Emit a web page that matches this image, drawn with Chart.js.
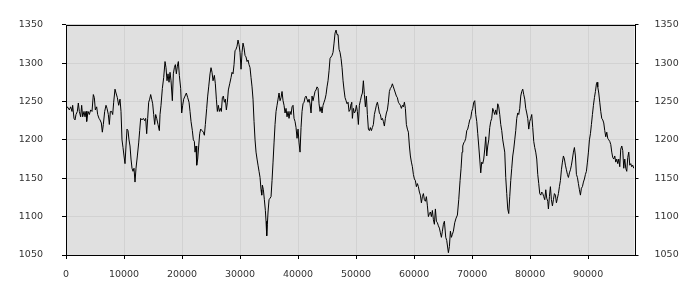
<!DOCTYPE html>
<html>
<head>
<meta charset="utf-8">
<script src="https://cdn.jsdelivr.net/npm/chart.js@4/dist/chart.umd.min.js"></script>
<style>
  html, body { margin: 0; padding: 0; background: #fff; }
</style>
</head>
<body>
<canvas id="grafico" width="700" height="300"></canvas>
<script>
// Série: [posição, valor]
const pontos = [
  [0,1240],[230,1243],[575,1239],[805,1243],[1034,1237],[1149,1245],[1379,1228],[1552,1226],[1724,1233],[1954,1237],
  [2126,1248],[2299,1237],[2529,1230],[2701,1245],[2874,1230],[3103,1237],[3276,1230],[3448,1237],[3563,1224],[3793,1237],
  [4023,1233],[4253,1239],[4483,1237],[4713,1259],[4885,1255],[5057,1239],[5287,1243],[5460,1233],[5690,1228],[5862,1226],
  [6092,1222],[6264,1210],[6437,1220],[6667,1237],[6897,1245],[7069,1241],[7299,1233],[7471,1220],[7644,1237],[7874,1237],
  [8046,1233],[8218,1249],[8448,1266],[8621,1261],[8851,1255],[9080,1245],[9310,1253],[9483,1237],[9655,1200],[9828,1190],
  [10000,1179],[10172,1169],[10345,1192],[10517,1214],[10690,1212],[10862,1200],[11034,1192],[11207,1175],[11379,1163],[11552,1159],
  [11724,1163],[11897,1145],[12069,1163],[12299,1179],[12529,1196],[12701,1212],[12874,1228],[13103,1226],[13333,1228],[13563,1225],
  [13736,1228],[13908,1208],[14080,1228],[14253,1249],[14425,1253],[14598,1259],[14770,1253],[14943,1247],[15115,1233],[15287,1220],
  [15460,1233],[15632,1228],[15862,1220],[16092,1212],
  [16207,1233],[16379,1245],[16609,1267],[16839,1281],[17069,1302],[17241,1294],[17414,1277],[17586,1286],[17759,1275],[17931,1288],
  [18103,1277],[18333,1251],[18506,1286],[18678,1294],[18851,1298],[19023,1286],[19195,1296],[19368,1302],[19540,1284],[19770,1267],
  [19943,1235],[20115,1245],[20287,1253],[20517,1257],[20747,1261],[20977,1255],[21207,1249],[21379,1237],[21552,1224],[21782,1212],
  [21954,1200],[22126,1198],[22241,1184],[22414,1192],[22529,1167],[22701,1175],[22874,1192],[23046,1208],[23218,1214],[23448,1212],
  [23678,1210],[23851,1206],[24023,1220],[24253,1241],[24425,1257],[24598,1269],[24828,1286],[25000,1294],[25172,1288],[25345,1277],
  [25575,1284],[25747,1273],[25920,1253],[26092,1237],[26264,1245],[26437,1237],[26609,1241],[26782,1237],[26954,1255],[27126,1257],
  [27299,1249],[27471,1253],[27644,1239],[27816,1249],[27988,1265],[28218,1273],[28448,1281],[28621,1288],[28793,1286],[28966,1298],
  [29138,1316],[29310,1318],[29483,1322],[29655,1330],[29828,1324],[30000,1314],[30172,1292],[30345,1314],[30517,1326],[30690,1320],
  [30862,1310],[31034,1308],[31207,1302],[31379,1304],[31552,1298],[31724,1294],
  [31897,1281],[32069,1269],[32241,1253],[32414,1224],[32586,1200],[32759,1184],[32931,1175],[33103,1167],[33276,1159],[33448,1151],
  [33621,1135],[33736,1128],[33851,1141],[34023,1135],[34195,1122],[34368,1108],[34483,1094],[34598,1075],[34713,1090],[34828,1106],
  [35000,1122],[35172,1124],[35345,1126],[35517,1147],[35690,1171],[35862,1196],[36034,1220],[36207,1237],[36379,1245],[36552,1253],
  [36724,1261],[36897,1251],[37069,1255],[37241,1263],[37414,1251],[37586,1245],[37759,1235],[37931,1241],[38103,1230],[38276,1237],
  [38448,1228],[38621,1237],[38793,1233],[38966,1243],[39138,1245],[39310,1228],[39483,1224],[39655,1216],[39828,1202],[40000,1214],
  [40172,1196],[40345,1184],[40517,1216],[40690,1237],[40862,1247],[41034,1249],[41207,1255],[41379,1257],[41552,1253],[41724,1249],
  [41897,1253],[42069,1247],[42241,1235],[42414,1257],[42586,1251],[42759,1257],[42931,1263],[43103,1265],[43276,1269],[43448,1267],
  [43621,1247],[43793,1237],[43966,1243],[44138,1235],[44310,1245],[44483,1249],[44655,1253],[44828,1259],[45000,1269],[45172,1277],
  [45345,1290],[45517,1306],[45690,1308],[45862,1310],[46034,1314],[46207,1326],[46379,1339],[46552,1343],[46724,1337],[46897,1337],
  [47069,1318],[47241,1314],[47414,1306],[47586,1294],[47759,1277],[47931,1265],[48103,1255],[48276,1251],[48448,1247],[48621,1249],
  [48793,1237],
  [48965,1239],[49138,1247],[49253,1249],[49368,1228],[49540,1241],[49712,1235],[49885,1237],[50057,1245],[50230,1237],[50402,1220],
  [50574,1245],[50747,1251],[50919,1257],[51092,1261],[51264,1277],[51436,1259],[51609,1243],[51781,1257],[51954,1233],[52126,1214],
  [52299,1212],[52471,1216],[52643,1212],[52816,1216],[52988,1220],[53160,1233],[53333,1239],[53505,1245],[53678,1249],[53850,1243],
  [54023,1235],[54195,1233],[54367,1226],[54540,1228],[54712,1224],[54885,1218],[55057,1228],[55230,1235],[55402,1239],[55574,1249],
  [55747,1263],[55919,1267],[56091,1269],[56264,1273],[56436,1269],[56609,1265],[56781,1261],[56953,1257],[57126,1255],[57298,1249],
  [57471,1247],[57643,1245],[57815,1241],[57988,1245],[58160,1243],[58333,1249],[58505,1241],[58677,1220],[58850,1214],[59022,1210],
  [59195,1192],[59367,1179],[59540,1171],[59712,1165],[59884,1155],[60057,1149],[60229,1147],[60402,1139],[60574,1143],[60746,1139],
  [60919,1132],[61091,1128],[61264,1118],[61436,1126],[61609,1130],[61781,1122],[61953,1120],[62126,1126],[62298,1114],[62471,1100],
  [62643,1104],[62816,1106],[62988,1100],[63160,1108],[63333,1096],[63505,1090],[63677,1110],[63850,1094],[64022,1092],[64195,1088],
  [64367,1085],[64540,1079],[64712,1073],[64884,1081],[65057,1090],[65229,1094],
  [65460,1073],[65632,1069],[65920,1053],[66092,1061],[66264,1081],[66437,1073],[66609,1077],[66782,1081],[67011,1092],[67241,1098],
  [67471,1102],[67701,1122],[67931,1147],[68104,1163],[68276,1184],[68391,1192],[68563,1196],[68736,1198],[68908,1202],[69081,1212],
  [69253,1214],[69425,1220],[69598,1226],[69770,1228],[69943,1237],[70115,1241],[70287,1249],[70460,1251],[70632,1233],[70805,1224],
  [70977,1208],[71149,1192],[71322,1175],[71494,1157],[71667,1171],[71839,1169],[72011,1175],[72184,1188],[72356,1204],[72529,1179],
  [72701,1192],[72874,1200],[73046,1216],[73218,1224],[73391,1228],[73563,1241],[73736,1237],[73908,1233],[74081,1239],[74253,1233],
  [74425,1247],[74598,1243],[74770,1233],[74943,1220],[75115,1212],[75287,1200],[75460,1192],[75632,1184],[75805,1151],[75977,1130],
  [76149,1110],[76322,1104],[76494,1126],[76667,1147],[76839,1163],[77011,1179],[77184,1188],[77356,1200],[77529,1212],[77701,1228],
  [77873,1235],[78046,1233],[78218,1241],[78391,1257],[78563,1263],[78735,1266],[78908,1259],[79080,1253],[79253,1241],[79425,1235],
  [79597,1228],[79770,1214],[79942,1224],[80115,1228],[80287,1233],[80459,1216],[80632,1198],[80804,1190],[80976,1184],[81149,1175],
  [81321,1155],[81494,1143],[81666,1130],
  [81839,1128],[82011,1132],[82184,1130],[82356,1126],[82529,1122],[82701,1135],[82873,1124],[83046,1120],[83161,1110],[83333,1126],
  [83505,1139],[83678,1122],[83850,1114],[84023,1122],[84195,1130],[84367,1128],[84540,1118],[84712,1124],[84885,1130],[85057,1139],
  [85230,1147],[85402,1161],[85574,1171],[85747,1179],[85919,1175],[86092,1167],[86264,1161],[86436,1155],[86609,1151],[86781,1157],
  [86954,1161],[87126,1167],[87298,1175],[87471,1184],[87643,1190],[87816,1179],[87988,1155],[88160,1151],[88333,1143],[88505,1135],
  [88678,1128],[88850,1137],[89022,1139],[89195,1145],[89367,1149],[89540,1155],[89712,1159],[89885,1171],[90057,1184],[90230,1200],
  [90402,1208],[90574,1220],[90747,1233],[90919,1245],[91092,1255],[91264,1263],[91437,1273],[91551,1275],[91667,1269],[91839,1261],
  [92011,1249],[92184,1237],[92356,1228],[92529,1226],[92701,1222],[92873,1212],[93046,1204],[93218,1210],[93391,1202],[93563,1200],
  [93736,1198],[93908,1194],[94080,1184],[94253,1177],[94425,1175],[94598,1179],[94770,1171],[94942,1175],[95115,1169],[95287,1175],
  [95460,1165],[95632,1188],[95805,1192],[95977,1186],[96149,1163],[96322,1175],[96494,1163],[96666,1159],[96839,1177],[97011,1184],
  [97183,1167],[97356,1169],[97528,1165],[97701,1167],[97873,1163]
];

// Eixos
const xMin = 0, xMax = 98000;
const xTicks = [0, 10000, 20000, 30000, 40000, 50000, 60000, 70000, 80000, 90000];
const yMin = 1050, yMax = 1350;
const yTicks = [1050, 1100, 1150, 1200, 1250, 1300, 1350];

const fonteTicks = { family: 'DejaVu Sans', size: 9.5 };
const corTexto = '#333';

// Fundo cinza da área do gráfico e moldura preta
const fundoPlot = {
  id: 'fundoPlot',
  beforeDraw(chart) {
    const { ctx, chartArea: a } = chart;
    ctx.save();
    ctx.fillStyle = '#e0e0e0';
    ctx.fillRect(a.left, a.top, a.width, a.height);
    ctx.restore();
  },
  afterDraw(chart) {
    const { ctx, chartArea: a } = chart;
    ctx.save();
    ctx.strokeStyle = '#000';
    ctx.lineWidth = 1;
    ctx.strokeRect(Math.round(a.left) + 0.5, Math.round(a.top) + 0.5,
      Math.round(a.right) - Math.round(a.left), Math.round(a.bottom) - Math.round(a.top));
    ctx.restore();
  }
};

function eixoY(posicao, largura, pad, grade) {
  return {
    type: 'linear',
    position: posicao,
    min: yMin,
    max: yMax,
    afterBuildTicks(s) { s.ticks = yTicks.map(v => ({ value: v })); },
    ticks: { color: corTexto, font: fonteTicks, padding: pad, callback: v => String(v) },
    grid: { color: '#d2d2d2', tickColor: '#000', tickLength: 4, drawOnChartArea: grade },
    border: { display: false },
    afterFit(s) { s.width = largura; }
  };
}

new Chart(document.getElementById('grafico'), {
  type: 'line',
  data: {
    datasets: [{
      data: pontos.map(p => ({ x: p[0], y: p[1] })),
      borderColor: '#000',
      borderWidth: 1,
      pointRadius: 0,
      tension: 0,
      fill: false
    }]
  },
  options: {
    responsive: false,
    animation: false,
    devicePixelRatio: 1,
    layout: { padding: { top: 10, left: 0, right: 0, bottom: 0 } },
    plugins: { legend: { display: false }, tooltip: { enabled: false } },
    scales: {
      x: {
        type: 'linear',
        min: xMin,
        max: xMax,
        afterBuildTicks(s) { s.ticks = xTicks.map(v => ({ value: v })); },
        ticks: { autoSkip: false, maxRotation: 0, color: corTexto, font: fonteTicks,
                 padding: 10, callback: v => String(v) },
        grid: { color: '#d2d2d2', tickColor: '#000', tickLength: 4 },
        border: { display: false },
        afterFit(s) { s.height = 45; }
      },
      y: eixoY('left', 66, 19, true),
      y2: eixoY('right', 65.5, 16, false)
    }
  },
  plugins: [fundoPlot]
});
</script>
</body>
</html>
